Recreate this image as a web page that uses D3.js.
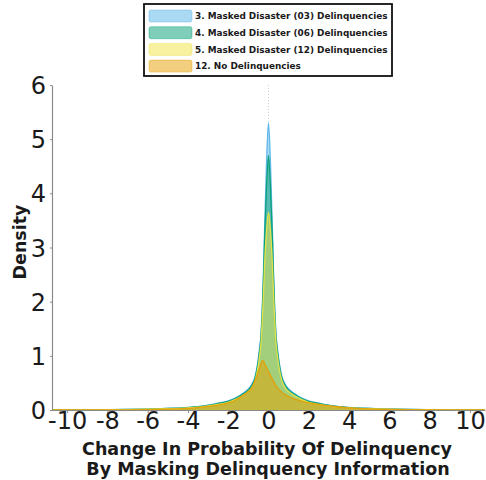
<!DOCTYPE html>
<html>
<head>
<meta charset="utf-8">
<script src="https://cdn.jsdelivr.net/npm/d3@7/dist/d3.min.js"></script>
<style>
  html, body { margin: 0; padding: 0; background: #fff; }
  svg { display: block; }
</style>
</head>
<body>
<svg id="chart" width="486" height="480"></svg>
<script>
// Evaluation grid (change in probability of delinquency)
const gridX = [-10.75, -9, -8, -7, -6, -5, -4, -3.5, -3, -2.5, -2, -1.6, -1.3, -1, -0.85, -0.66, -0.55, -0.45, -0.37, -0.3, -0.25, -0.2, -0.1,
  0, 0.1, 0.2, 0.25, 0.3, 0.37, 0.45, 0.55, 0.66, 0.85, 1, 1.3, 1.6, 2, 2.5, 3, 3.5, 4, 5, 6, 7, 8, 9, 10.75];

// Density estimates per scenario
const masked03 = [0.001, 0.003, 0.006, 0.01, 0.018, 0.03, 0.048, 0.063, 0.088, 0.125, 0.17, 0.23, 0.3, 0.39, 0.46, 0.63, 0.84, 1.12, 1.42, 1.98, 2.55, 3.25, 4.55,
  5.3, 4.55, 3.25, 2.55, 1.98, 1.42, 1.12, 0.84, 0.63, 0.46, 0.39, 0.3, 0.23, 0.17, 0.125, 0.088, 0.063, 0.048, 0.03, 0.018, 0.01, 0.006, 0.003, 0.001];
const masked06 = [0.001, 0.003, 0.006, 0.01, 0.017, 0.028, 0.045, 0.06, 0.084, 0.12, 0.16, 0.22, 0.29, 0.37, 0.44, 0.6, 0.8, 1.07, 1.37, 1.92, 2.45, 3.1, 4.1,
  4.7, 4.1, 3.1, 2.45, 1.92, 1.37, 1.07, 0.8, 0.6, 0.44, 0.37, 0.29, 0.22, 0.16, 0.12, 0.084, 0.06, 0.045, 0.028, 0.017, 0.01, 0.006, 0.003, 0.001];
const masked12 = [0.001, 0.002, 0.005, 0.008, 0.014, 0.024, 0.04, 0.052, 0.074, 0.105, 0.14, 0.2, 0.26, 0.34, 0.4, 0.55, 0.73, 0.98, 1.26, 1.74, 2.15, 2.65, 3.3,
  3.65, 3.3, 2.65, 2.15, 1.74, 1.26, 0.98, 0.73, 0.55, 0.4, 0.34, 0.26, 0.2, 0.14, 0.105, 0.074, 0.052, 0.04, 0.024, 0.014, 0.008, 0.005, 0.002, 0.001];
const noDelinq = [0.0005, 0.001, 0.002, 0.004, 0.008, 0.016, 0.03, 0.045, 0.065, 0.09, 0.13, 0.19, 0.26, 0.34, 0.4, 0.55, 0.66, 0.77, 0.86, 0.91, 0.9, 0.86, 0.78,
  0.71, 0.64, 0.57, 0.53, 0.5, 0.45, 0.41, 0.37, 0.33, 0.28, 0.25, 0.2, 0.17, 0.13, 0.1, 0.075, 0.055, 0.04, 0.022, 0.012, 0.006, 0.003, 0.0015, 0.0005];

const seriesNames = [
  "3. Masked Disaster (03) Delinquencies",
  "4. Masked Disaster (06) Delinquencies",
  "5. Masked Disaster (12) Delinquencies",
  "12. No Delinquencies"
];
const seriesColors = ["#56B4E9", "#009E73", "#F0E442", "#E69F00"];
const seriesValues = [masked03, masked06, masked12, noDelinq];

const xTicks = [-10, -8, -6, -4, -2, 0, 2, 4, 6, 8, 10];
const yTicks = [0, 1, 2, 3, 4, 5, 6];

const svg = d3.select("#chart");
const x = d3.scaleLinear().domain([-10.75, 10.75]).range([52, 485]);
const y = d3.scaleLinear().domain([0, 6]).range([410, 85]);

const area = d3.area()
  .x(d => x(d[0]))
  .y0(y(0))
  .y1(d => y(d[1]))
  .curve(d3.curveMonotoneX);
const line = d3.line()
  .x(d => x(d[0]))
  .y(d => y(d[1]))
  .curve(d3.curveMonotoneX);

// faint reference line at zero change
svg.append("line")
  .attr("x1", x(0)).attr("x2", x(0))
  .attr("y1", y(6)).attr("y2", y(5.2))
  .attr("stroke", "#cfcfcf").attr("stroke-width", 1)
  .attr("stroke-dasharray", "1,2");

const plot = svg.append("g");
seriesValues.forEach((vals, i) => {
  const pts = gridX.map((gx, j) => [gx, vals[j]]);
  plot.append("path")
    .datum(pts)
    .attr("d", area)
    .attr("fill", seriesColors[i])
    .attr("fill-opacity", 0.5);
  plot.append("path")
    .datum(pts)
    .attr("d", line)
    .attr("fill", "none")
    .attr("stroke", seriesColors[i])
    .attr("stroke-opacity", 0.9)
    .attr("stroke-width", 1.3);
});

// axes (plain hyphen for negative labels)
const fmt = d => String(d);
const axisColor = "#8a8a8a";
const xAxis = svg.append("g").attr("transform", `translate(0,${y(0)})`)
  .call(d3.axisBottom(x).tickValues(xTicks).tickSize(3).tickSizeOuter(0).tickPadding(1).tickFormat(fmt));
const yAxis = svg.append("g").attr("transform", `translate(${x(-10.75)},0)`)
  .call(d3.axisLeft(y).tickValues(yTicks).tickSize(2).tickSizeOuter(0).tickPadding(4).tickFormat(fmt));

[xAxis, yAxis].forEach(g => {
  g.select(".domain").attr("stroke", axisColor).attr("stroke-width", 1.2);
  g.selectAll(".tick line").attr("stroke", axisColor);
  g.selectAll(".tick text")
    .attr("font-family", "DejaVu Sans, sans-serif")
    .attr("font-size", 24)
    .attr("fill", "#1a1a1a");
});
xAxis.selectAll(".tick text").attr("dy", null).attr("y", 18.5).attr("dominant-baseline", "auto");
yAxis.selectAll(".tick text").attr("dy", "0.36em");

// axis titles
svg.append("text")
  .attr("x", 267).attr("y", 455)
  .attr("text-anchor", "middle")
  .attr("font-family", "DejaVu Sans, sans-serif")
  .attr("font-weight", "bold")
  .attr("font-size", 17.5)
  .attr("fill", "#1a1a1a")
  .text("Change In Probability Of Delinquency");
svg.append("text")
  .attr("x", 268).attr("y", 475)
  .attr("text-anchor", "middle")
  .attr("font-family", "DejaVu Sans, sans-serif")
  .attr("font-weight", "bold")
  .attr("font-size", 17.5)
  .attr("fill", "#1a1a1a")
  .text("By Masking Delinquency Information");
svg.append("text")
  .attr("transform", "translate(25.5,242) rotate(-90)")
  .attr("text-anchor", "middle")
  .attr("font-family", "DejaVu Sans, sans-serif")
  .attr("font-weight", "bold")
  .attr("font-size", 17.5)
  .attr("fill", "#1a1a1a")
  .text("Density");

// legend
const legend = svg.append("g");
legend.append("rect")
  .attr("x", 144).attr("y", 4).attr("width", 248).attr("height", 72)
  .attr("fill", "#fff").attr("stroke", "#111").attr("stroke-width", 1.8);
seriesNames.forEach((name, i) => {
  const cy = 16 + i * 16.7;
  legend.append("rect")
    .attr("x", 149).attr("y", cy - 6).attr("width", 43).attr("height", 12)
    .attr("rx", 2)
    .attr("fill", seriesColors[i]).attr("fill-opacity", 0.5)
    .attr("stroke", seriesColors[i]).attr("stroke-opacity", 0.4);
  legend.append("text")
    .attr("x", 195).attr("y", cy + 3.3)
    .attr("font-family", "DejaVu Sans, sans-serif")
    .attr("font-weight", "bold")
    .attr("font-size", 8.9)
    .attr("fill", "#1a1a1a")
    .text(name);
});
</script>
</body>
</html>
